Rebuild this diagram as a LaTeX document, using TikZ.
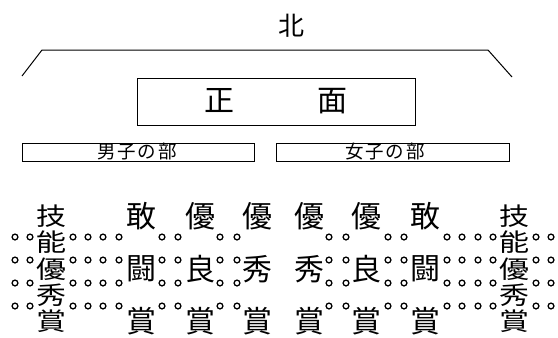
\documentclass[tikz,border=0pt]{standalone}
\usepackage{fontspec}
\newfontfamily\jp{Noto Sans CJK JP}
\tikzset{
  frame/.style={draw=black, line width=1pt, inner sep=0pt},
  seat/.style={circle, draw=black, fill=white, line width=1.3pt, inner sep=0pt, minimum size=5.8pt},
  big/.style={font=\jp\fontsize{30}{30}\selectfont, inner sep=0pt},
  mid/.style={font=\jp\fontsize{26}{26}\selectfont, inner sep=0pt},
  small/.style={font=\jp\fontsize{18.5}{18.5}\selectfont, inner sep=0pt},
}
\begin{document}
\begin{tikzpicture}[x=1pt,y=-1pt]
\useasboundingbox (0,0) rectangle (558,338);
% north
\node[mid] (north) at (291,26) {北};
\coordinate (bl) at (22,76);
\coordinate (tl) at (42,50);
\coordinate (tr) at (488,50);
\coordinate (br) at (512,77);
\draw[line width=1pt] (bl) -- (tl) -- (tr) -- (br);
% front
\node[frame, minimum width=278pt, minimum height=47pt] (front) at (276,101.5) {};
\node[big] (sho) at (219,101) {正};
\node[big] (men) at (332,101) {面};
% sections
\node[frame, minimum width=232pt, minimum height=18pt] (men box) at (138,152) {};
\node[small] (mens) at (137,152) {男\hspace{2pt}子\hspace{2pt}の\hspace{2pt}部};
\node[frame, minimum width=233pt, minimum height=18pt] (women box) at (392.5,152) {};
\node[small] (womens) at (385,152) {女\hspace{2pt}子\hspace{2pt}の\hspace{2pt}部};
% award columns (three characters)
\foreach \n/\x/\a/\b in {c2/141/敢/闘, c3/200/優/良, c4/257/優/秀, c5/309/優/秀, c6/366/優/良, c7/425/敢/闘}{
  \node[big] (\n a) at (\x,216) {\a};
  \node[big] (\n b) at (\x,269) {\b};
  \node[big] (\n c) at (\x,321) {賞};
}
% award columns (five characters)
\foreach \n/\x in {c1/51, c8/514}{
  \node[big, yscale=0.82] (\n a) at (\x,216) {技};
  \node[big, yscale=0.82] (\n b) at (\x,242.5) {能};
  \node[big, yscale=0.82] (\n c) at (\x,269) {優};
  \node[big, yscale=0.82] (\n d) at (\x,295.5) {秀};
  \node[big, yscale=0.82] (\n e) at (\x,321) {賞};
}
% seats
\foreach \x [count=\i] in {15,30,73,88,103,119,162,178,220,237,329,346,388,404,447,462,478,493,536,551}{
  \foreach \y [count=\j] in {237,260,283,306}{
    \node[seat] (s\i-\j) at (\x,\y) {};
  }
}
\end{tikzpicture}
\end{document}
